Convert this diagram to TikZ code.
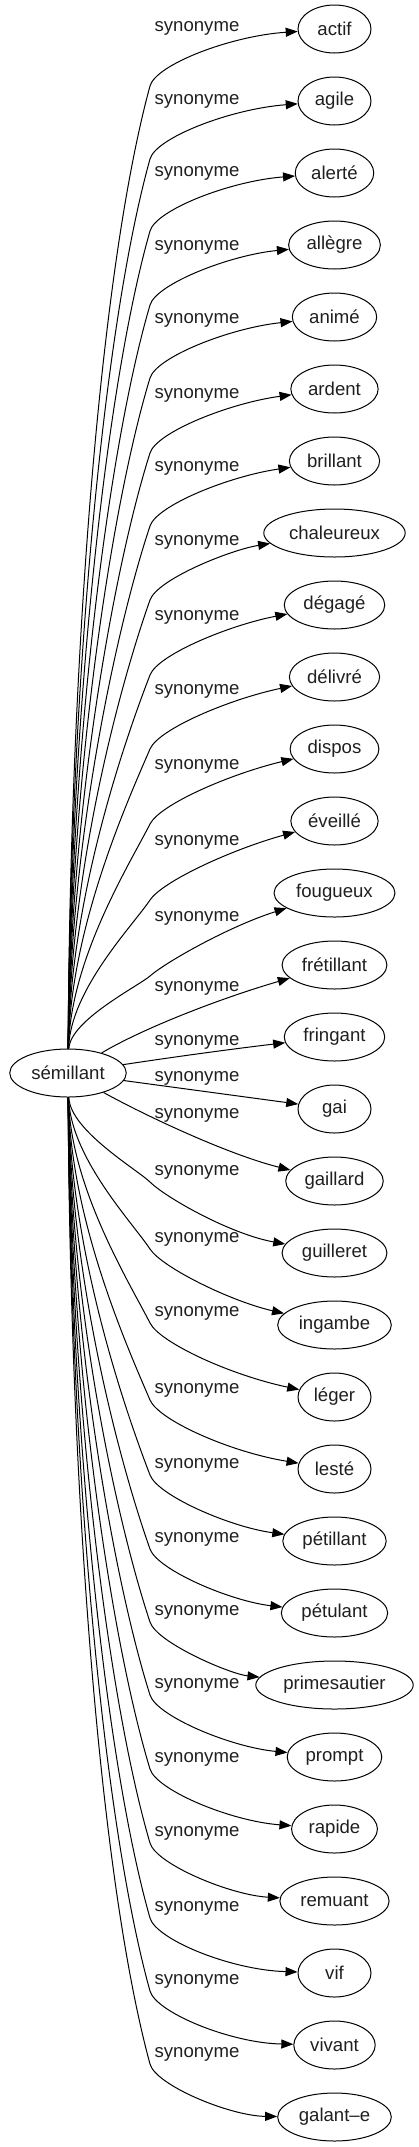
\documentclass[tikz,border=0pt]{standalone}
\usepackage{fontspec}
\setmainfont{Liberation Sans}
\usetikzlibrary{arrows.meta,shapes.geometric}
\begin{document}
\begin{tikzpicture}[x=1pt,y=-1pt,
  txt/.style={font=\fontsize{18.6}{22}\selectfont, text=black!88},
  word/.style={txt, draw, ellipse, line width=1pt, minimum width=73pt, minimum height=48pt, inner xsep=4.5pt, inner ysep=3pt},
  lbl/.style={txt, inner sep=0pt},
  edge/.style={line width=1pt, -{Triangle[length=12pt,width=9pt]}}]
\useasboundingbox (0,0) rectangle (419,2147);
\node[word] (src) at (68,1073) {sémillant};
\foreach \i/\w/\L in {0/actif/28, 1/agile/101, 2/alerté/173, 3/allègre/247, 4/animé/320,
  5/ardent/395, 6/brillant/468, 7/chaleureux/542, 8/dégagé/617, 9/délivré/691,
  10/dispos/766, 11/éveillé/842, 12/fougueux/918, 13/frétillant/988, 14/fringant/1042,
  15/gai/1078, 16/gaillard/1115, 17/guilleret/1172, 18/ingambe/1239, 19/léger/1313,
  20/lesté/1390, 21/pétillant/1465, 22/pétulant/1539, 23/primesautier/1612, 24/prompt/1685,
  25/rapide/1759, 26/remuant/1833, 27/vif/1908, 28/vivant/1981, 29/galant–e/2054} {
  \node[word] (n\i) at (334.5,{29+72*\i}) {\w};
  \node[lbl] (l\i) at (197,\L) {synonyme};
}
% upper edges
\foreach \i/\L in {0/28, 1/101, 2/173, 3/247, 4/320, 5/395, 6/468, 7/542, 8/617, 9/691, 10/766, 11/842, 12/918} {
  \pgfmathsetmacro\qyB{\L+58}
  \pgfmathsetmacro\qh{1050-\qyB}
  \pgfmathsetmacro\qth{atan2(\qh,0.2*\qh+70)}
  \pgfmathsetmacro\qux{cos(\qth)}
  \pgfmathsetmacro\quy{-sin(\qth)}
  \pgfmathsetmacro\qay{1050-0.4*\qh}
  \pgfmathsetmacro\qbx{150-0.2*\qh*\qux}
  \pgfmathsetmacro\qby{\qyB-0.2*\qh*\quy}
  \pgfmathsetmacro\qcx{150+22*\qux}
  \pgfmathsetmacro\qcy{\qyB+22*\quy}
  \pgfmathsetmacro\qdy{\L+8}
  \draw[edge] (src) .. controls (70,\qay) and (\qbx,\qby) .. (150,\qyB) .. controls (\qcx,\qcy) and (230,\qdy) .. (n\i);
}
% lower edges
\foreach \i/\L in {17/1172, 18/1239, 19/1313, 20/1390, 21/1465, 22/1539, 23/1612, 24/1685, 25/1759, 26/1833, 27/1908, 28/1981, 29/2054} {
  \pgfmathsetmacro\qyB{\L+10}
  \pgfmathsetmacro\qh{\qyB-1096}
  \pgfmathsetmacro\qth{atan2(\qh,0.2*\qh+70)}
  \pgfmathsetmacro\qux{cos(\qth)}
  \pgfmathsetmacro\quy{sin(\qth)}
  \pgfmathsetmacro\qay{1096+0.4*\qh}
  \pgfmathsetmacro\qbx{150-0.2*\qh*\qux}
  \pgfmathsetmacro\qby{\qyB-0.2*\qh*\quy}
  \pgfmathsetmacro\qcx{150+22*\qux}
  \pgfmathsetmacro\qcy{\qyB+22*\quy}
  \pgfmathsetmacro\qdy{\L+62}
  \draw[edge] (src) .. controls (70,\qay) and (\qbx,\qby) .. (150,\qyB) .. controls (\qcx,\qcy) and (230,\qdy) .. (n\i);
}
% central edges
\draw[edge] (src) .. controls (140,1030) and (215,1000) .. (n13);
\draw[edge] (src) .. controls (180,1056) and (240,1048) .. (n14);
\draw[edge] (src) -- (n15);
\draw[edge] (src) .. controls (150,1118) and (230,1155) .. (n16);
\end{tikzpicture}
\end{document}
